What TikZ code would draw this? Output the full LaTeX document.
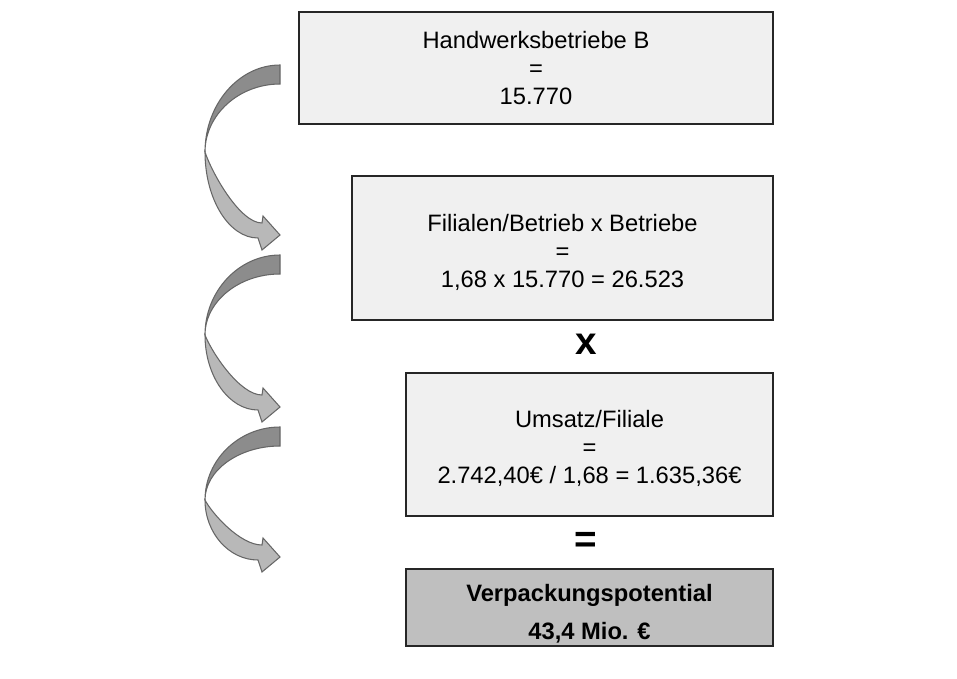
\documentclass[tikz,border=0pt]{standalone}
\usepackage{fontspec}
\setmainfont{Liberation Sans}
\usepackage{tikz}

% gebogener Pfeil: Oberkante, Scheitel, Spitze (y in px)
\newcommand{\bogen}[3]{%
  \filldraw[bogendunkel] (280,#1) .. controls (239,#1) and (205,{#2-0.55*(#2-#1)}) .. (205,#2)
    .. controls (205,{#2-0.55*(#2-#1-19)}) and (239,{#1+19}) .. (280,{#1+19}) -- cycle;
  \filldraw[bogenhell] (205,#2) .. controls (205,{#2+0.55*(#3+3-#2)}) and (229,{#3+3}) .. (258,{#3+3})
    -- (262,{#3+15}) -- (280,#3) -- (263,{#3-19}) -- (262,{#3-12})
    .. controls (240,{#3-12}) and (212,{#2+0.3*(#3-12-#2)}) .. (205,#2) -- cycle;
}
\newcommand{\hoch}[1]{\rule{0pt}{#1}}

\begin{document}
\begin{tikzpicture}[x=0.02cm,y=-0.02cm,
  kasten/.style={draw=black!85,fill=gray!12,line width=0.8pt,align=center,
    inner sep=0pt,font=\fontsize{13.5}{16}\selectfont},
  ergebnis/.style={kasten,fill=gray!50,font=\fontsize{13.5}{21.5}\selectfont\bfseries},
  zeichen/.style={font=\fontsize{22}{22}\selectfont\bfseries},
  bogendunkel/.style={draw=black!60,fill=black!45,line width=0.6pt},
  bogenhell/.style={draw=black!60,fill=black!28,line width=0.6pt}]
  \useasboundingbox (0,0) rectangle (957,679);

  \node[kasten,minimum width=9.48cm,minimum height=2.24cm] (betriebe) at (536,68)
    {Handwerksbetriebe B\\=\\15.770};
  \node[kasten,minimum width=8.42cm,minimum height=2.88cm] (filialen) at (562.5,248)
    {\hoch{14.5pt}Filialen/Betrieb x Betriebe\\=\\1,68 x 15.770 = 26.523};
  \node[kasten,minimum width=7.34cm,minimum height=2.86cm] (umsatz) at (589.5,444.5)
    {\hoch{14.5pt}Umsatz/Filiale\\=\\2.742,40€ / 1,68 = 1.635,36€};
  \node[ergebnis,minimum width=7.34cm,minimum height=1.54cm] (potential) at (589.5,607.5)
    {\hoch{16.5pt}Verpackungspotential\\43,4 Mio. €};

  \node[zeichen] (mal) at (586,344) {x};
  \node[zeichen] (gleich) at (586,542) {=};

  \bogen{65}{152}{235}
  \bogen{255}{335}{407}
  \bogen{427}{500}{557}
\end{tikzpicture}
\end{document}
